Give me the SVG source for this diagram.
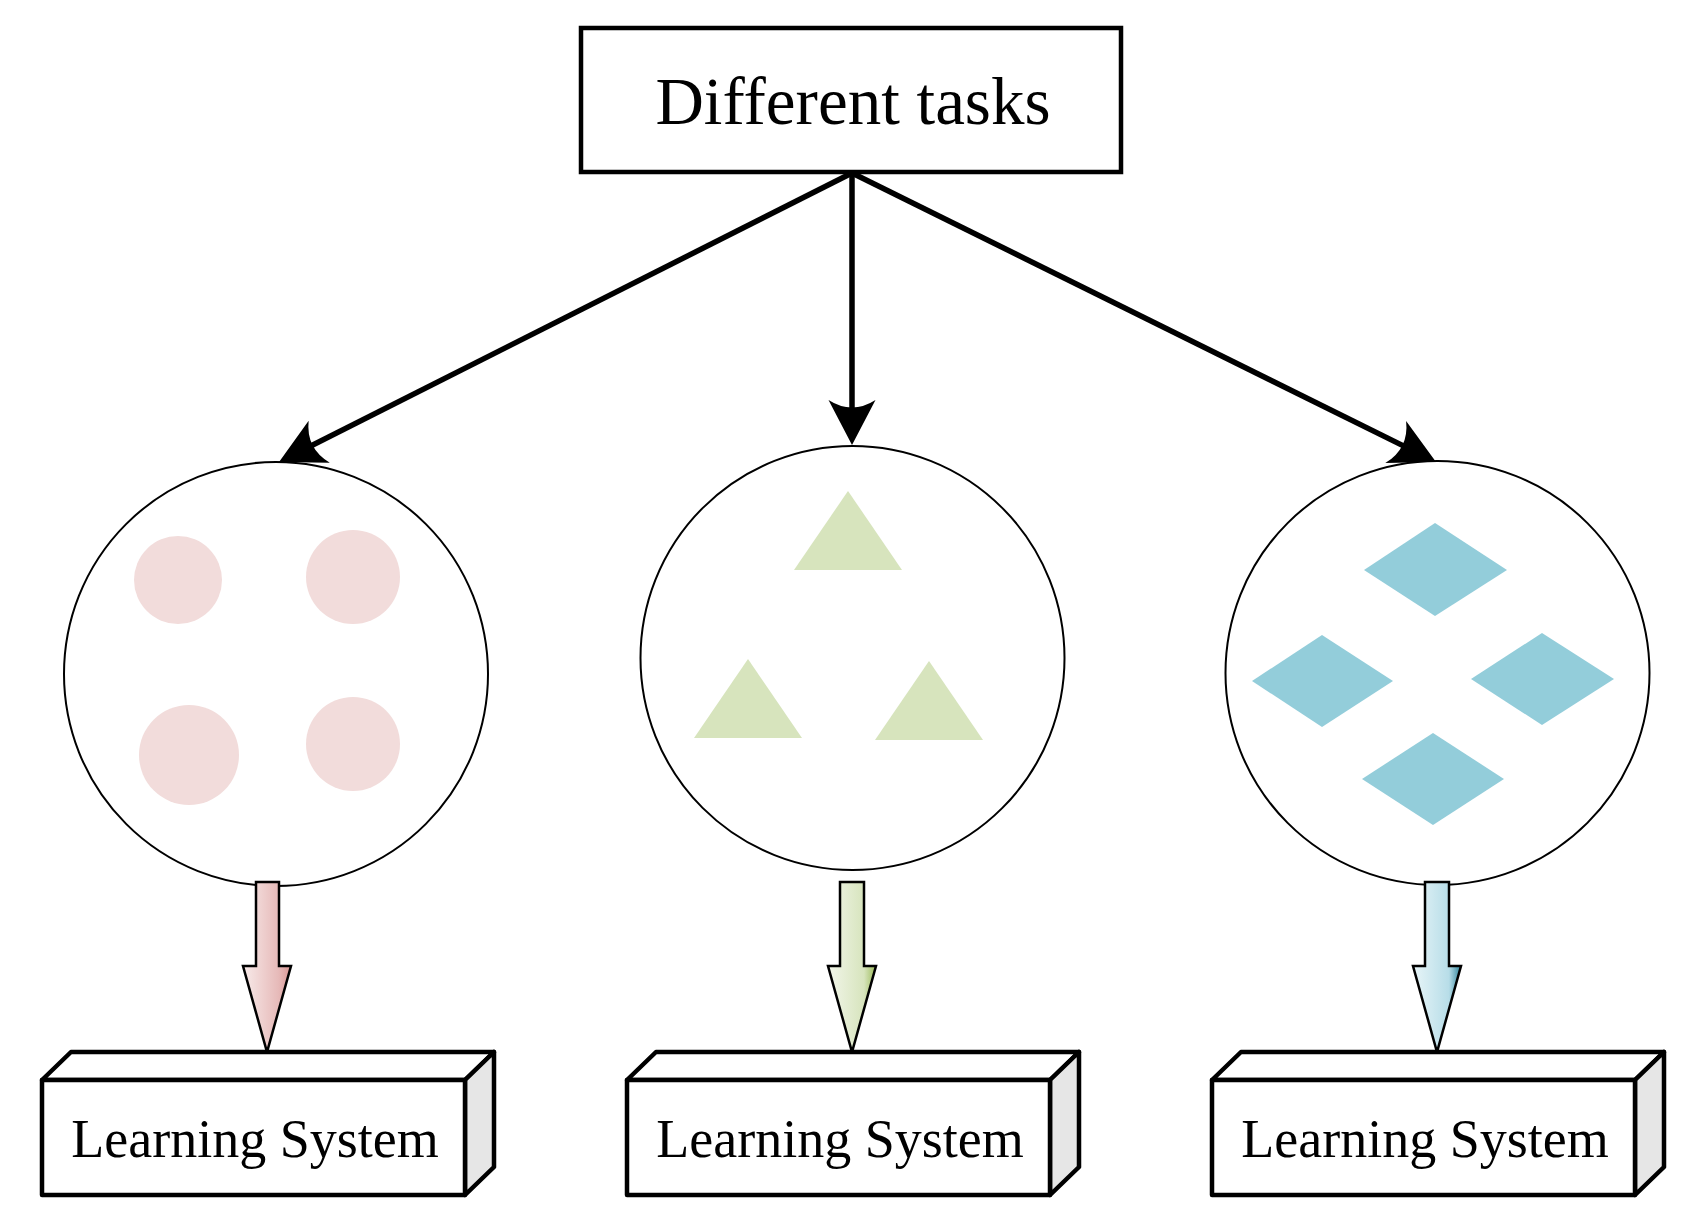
<svg xmlns="http://www.w3.org/2000/svg" width="1704" height="1228" viewBox="0 0 1704 1228">
<style>
.box{fill:#fff;stroke:#000;stroke-width:4.5;stroke-linejoin:round}
.side{fill:#e6e6e6;stroke:#000;stroke-width:4.5;stroke-linejoin:round}
.ring{fill:#fff;stroke:#000;stroke-width:2}
.t{font-family:"Liberation Serif","Times New Roman",serif;fill:#000;text-anchor:middle}
.conn{stroke:#000;stroke-width:5.5;fill:none;marker-end:url(#ah)}
.dot{fill:#f2dcdb}
.tri{fill:#d7e4bd}
.dia{fill:#93cdda}
.barrow{stroke:#000;stroke-width:2.5;stroke-linejoin:miter}
</style>
<defs>
<marker id="ah" markerUnits="userSpaceOnUse" orient="auto" refX="0" refY="0" markerWidth="60" markerHeight="60" viewBox="-30 -30 60 60" overflow="visible">
<path d="M20 0 L-25 -23.5 Q-10 0 -25 23.5 Z" fill="#000"/>
</marker>
<linearGradient id="gp" x1="0" y1="0" x2="1" y2="0">
<stop offset="0" stop-color="#f8ebea"/><stop offset="0.75" stop-color="#e6b9b8"/><stop offset="1" stop-color="#d99694"/>
</linearGradient>
<linearGradient id="gg" x1="0" y1="0" x2="1" y2="0">
<stop offset="0" stop-color="#f2f6ea"/><stop offset="0.75" stop-color="#d7e4bd"/><stop offset="1" stop-color="#9bbb59"/>
</linearGradient>
<linearGradient id="gb" x1="0" y1="0" x2="1" y2="0">
<stop offset="0" stop-color="#e8f5f8"/><stop offset="0.75" stop-color="#b7dde8"/><stop offset="1" stop-color="#31859c"/>
</linearGradient>
</defs>

<g id="connectors">
<line class="conn" x1="852" y1="173" x2="296.9" y2="453"/>
<line class="conn" x1="852" y1="173" x2="852" y2="425"/>
<line class="conn" x1="852" y1="173" x2="1418.1" y2="453.1"/>
</g>

<g id="task">
<rect class="box" x="581" y="28" width="540" height="144" style="stroke-linejoin:miter"/>
<text class="t" x="853" y="124" font-size="67">Different tasks</text>
</g>

<g id="circle-left">
<circle class="ring" cx="276" cy="674" r="212"/>
<circle class="dot" cx="178" cy="580" r="44"/>
<circle class="dot" cx="353" cy="577" r="47"/>
<circle class="dot" cx="189" cy="755" r="50"/>
<circle class="dot" cx="353" cy="744" r="47"/>
</g>

<g id="circle-middle">
<circle class="ring" cx="852.5" cy="658" r="212"/>
<polygon class="tri" points="848,491 902,570 794,570"/>
<polygon class="tri" points="748,659 802,738 694,738"/>
<polygon class="tri" points="929,661 983,740 875,740"/>
</g>

<g id="circle-right">
<circle class="ring" cx="1437.5" cy="673" r="212"/>
<polygon class="dia" points="1364,570 1435,523 1507,570 1435,616"/>
<polygon class="dia" points="1252,681 1322,635 1393,681 1322,727"/>
<polygon class="dia" points="1471,679 1542,633 1614,679 1542,725"/>
<polygon class="dia" points="1362,779 1433,733 1504,779 1433,825"/>
</g>

<g id="flow-left">
<polygon class="barrow" fill="url(#gp)" points="256,882 279,882 279,966 291,966 267,1052 243,966 256,966"/>
</g>
<g id="flow-middle">
<polygon class="barrow" fill="url(#gg)" points="840,882 864,882 864,966 876,966 852,1052 828,966 840,966"/>
</g>
<g id="flow-right">
<polygon class="barrow" fill="url(#gb)" points="1425,882 1449,882 1449,966 1461,966 1437,1052 1413,966 1425,966"/>
</g>

<g id="system-left">
<polygon class="box" points="42,1080 71,1052 494,1052 465,1080"/>
<polygon class="side" points="465,1080 494,1052 494,1167 465,1195"/>
<rect class="box" x="42" y="1080" width="423" height="115"/>
<text class="t" x="255" y="1157" font-size="54">Learning System</text>
</g>

<g id="system-middle">
<polygon class="box" points="627,1080 656,1052 1079,1052 1050,1080"/>
<polygon class="side" points="1050,1080 1079,1052 1079,1167 1050,1195"/>
<rect class="box" x="627" y="1080" width="423" height="115"/>
<text class="t" x="840" y="1157" font-size="54">Learning System</text>
</g>

<g id="system-right">
<polygon class="box" points="1212,1080 1241,1052 1664,1052 1635,1080"/>
<polygon class="side" points="1635,1080 1664,1052 1664,1167 1635,1195"/>
<rect class="box" x="1212" y="1080" width="423" height="115"/>
<text class="t" x="1425" y="1157" font-size="54">Learning System</text>
</g>
</svg>
